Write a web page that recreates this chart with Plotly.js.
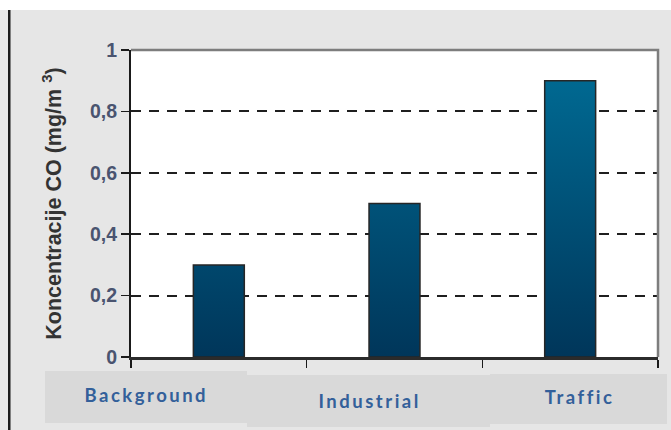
<!DOCTYPE html>
<html>
<head>
<meta charset="utf-8">
<script src="https://cdn.plot.ly/plotly-3.0.1.min.js"></script>
<style>
  html, body { margin: 0; padding: 0; background: #ffffff; }
  #chart { width: 671px; height: 430px; }
</style>
</head>
<body>
<div id="chart"></div>
<script>
// ---- data ----
const categories = ['Background', 'Industrial', 'Traffic'];
const coValues = [0.3, 0.5, 0.9];
const yTickVals = [0, 0.2, 0.4, 0.6, 0.8, 1];
const yTitleText = 'Koncentracije CO (mg/m <sup>3</sup>)';

// ---- layout helpers (plot area: x 131..658 px, y 50..357 px) ----
const L = 131, R = 13, T = 50, B = 73, W = 671, H = 430;
const PW = W - L - R, PH = H - T - B;
const px = p => (p - L) / PW;          // pixel x -> paper x
const py = p => (T + PH - p) / PH;     // pixel y -> paper y

const trace = {
  type: 'bar',
  x: categories,
  y: coValues,
  marker: { color: '#00527a', line: { color: '#262626', width: 1.5 } },
  hoverinfo: 'none'
};

const labelPos = [
  { x: 146, y: 395 },
  { x: 369, y: 401 },
  { x: 579, y: 397 }
];
const boxPos = [
  { x0: 45, x1: 247, y0: 371, y1: 423 },
  { x0: 247, x1: 490, y0: 375, y1: 427 },
  { x0: 490, x1: 667, y0: 374, y1: 424 }
];

const shapes = [
  // white strip at top of page
  { type: 'rect', xref: 'paper', yref: 'paper', x0: px(-5), x1: px(680), y0: py(10), y1: py(-5),
    fillcolor: '#ffffff', line: { width: 0 }, layer: 'below' },
  // black vertical rule at left
  { type: 'rect', xref: 'paper', yref: 'paper', x0: px(8), x1: px(10.5), y0: py(435), y1: py(10),
    fillcolor: '#1a1a1a', line: { width: 0 }, layer: 'above' },
  // top and right frame of the plot area
  { type: 'path', xref: 'paper', yref: 'paper', path: 'M 0,1 L 1,1 L 1,0',
    line: { color: '#7d7d7d', width: 2.5 }, layer: 'above' }
];
boxPos.forEach(b => shapes.push({
  type: 'rect', xref: 'paper', yref: 'paper', x0: px(b.x0), x1: px(b.x1), y0: py(b.y1), y1: py(b.y0),
  fillcolor: '#d9d9d9', line: { width: 0 }, layer: 'below'
}));

const annotations = categories.map((c, i) => ({
  text: '<b>' + c + '</b>',
  xref: 'paper', yref: 'paper',
  x: px(labelPos[i].x), y: py(labelPos[i].y),
  xanchor: 'center', yanchor: 'middle', showarrow: false,
  font: { family: 'Lato, "Open Sans", sans-serif', size: 18.5, color: '#33609a' }
}));

const layout = {
  width: W, height: H,
  margin: { l: L, r: R, t: T, b: B, pad: 0 },
  paper_bgcolor: '#e6e6e6',
  plot_bgcolor: '#ffffff',
  separators: ',.',
  showlegend: false,
  bargap: 0.71,
  xaxis: {
    type: 'category',
    showticklabels: false,
    tickson: 'boundaries',
    ticks: 'outside', ticklen: 8, tickwidth: 1.5, tickcolor: '#1a1a1a',
    showline: true, linecolor: '#2b2b2b', linewidth: 2.5,
    showgrid: false, zeroline: false, fixedrange: true
  },
  yaxis: {
    range: [0, 1],
    tickvals: yTickVals,
    ticks: 'outside', ticklen: 8, tickwidth: 1.5, tickcolor: '#1a1a1a',
    tickfont: { family: '"Liberation Sans", Arial, sans-serif', size: 19.5, weight: 'bold', color: '#4a5470' },
    showline: true, linecolor: '#1a1a1a', linewidth: 2,
    showgrid: true, gridcolor: '#1f1f1f', gridwidth: 2, griddash: '10px,8px',
    zeroline: false, fixedrange: true,
    title: {
      text: yTitleText, standoff: 22,
      font: { family: '"Liberation Sans", Arial, sans-serif', size: 21.5, weight: 'bold', color: '#333333' }
    }
  },
  shapes: shapes,
  annotations: annotations
};

const gd = document.getElementById('chart');
Plotly.newPlot(gd, [trace], layout, { displayModeBar: false, staticPlot: true }).then(() => {
  const ns = 'http://www.w3.org/2000/svg';
  const svg = gd.querySelector('svg.main-svg');
  let defs = svg.querySelector('defs');
  if (!defs) { defs = document.createElementNS(ns, 'defs'); svg.insertBefore(defs, svg.firstChild); }
  const lg = document.createElementNS(ns, 'linearGradient');
  lg.setAttribute('id', 'barGrad');
  lg.setAttribute('gradientUnits', 'userSpaceOnUse');
  lg.setAttribute('x1', '0'); lg.setAttribute('x2', '0');
  lg.setAttribute('y1', '0'); lg.setAttribute('y2', String(gd._fullLayout._size.h));
  [['0', '#006e97'], ['1', '#00365a']].forEach(([o, c]) => {
    const s = document.createElementNS(ns, 'stop');
    s.setAttribute('offset', o); s.setAttribute('stop-color', c);
    lg.appendChild(s);
  });
  defs.appendChild(lg);
  gd.querySelectorAll('.bars .point path').forEach(p => { p.style.fill = 'url(#barGrad)'; });
  gd.querySelectorAll('.annotation-text').forEach(t => { t.style.letterSpacing = '2.5px'; });
});
</script>
</body>
</html>
